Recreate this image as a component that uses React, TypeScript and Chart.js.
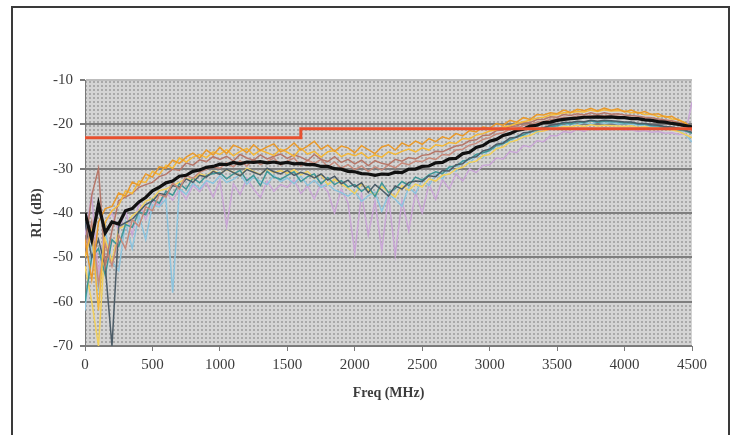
import React, { useEffect, useRef } from "react";
import { Chart, registerables } from "chart.js";

Chart.register(...registerables);

// Sweep frequencies (MHz)
const FREQ_MHZ = [
  0, 50, 100, 150, 200, 250, 300, 350, 400, 450,
  500, 550, 600, 650, 700, 750, 800, 850, 900, 950,
  1000, 1050, 1100, 1150, 1200, 1250, 1300, 1350, 1400, 1450,
  1500, 1550, 1600, 1650, 1700, 1750, 1800, 1850, 1900, 1950,
  2000, 2050, 2100, 2150, 2200, 2250, 2300, 2350, 2400, 2450,
  2500, 2550, 2600, 2650, 2700, 2750, 2800, 2850, 2900, 2950,
  3000, 3050, 3100, 3150, 3200, 3250, 3300, 3350, 3400, 3450,
  3500, 3550, 3600, 3650, 3700, 3750, 3800, 3850, 3900, 3950,
  4000, 4050, 4100, 4150, 4200, 4250, 4300, 4350, 4400, 4450,
  4500,
];

const X_TICKS = [0, 500, 1000, 1500, 2000, 2500, 3000, 3500, 4000, 4500];
const Y_TICKS = [-70, -60, -50, -40, -30, -20, -10];

// Return-loss limit mask (dB)
const LIMIT_FREQ = [0, 1600, 1600, 4500];
const LIMIT_RL = [-23, -23, -21, -21];

// Average of all measured ports (dB)
const AVG_RL = [
  -40, -46, -38, -44.5, -42, -42.5, -39.5, -39, -37.5, -36.5,
  -35, -34.2, -33.2, -32.8, -31.7, -31.5, -30.6, -30.3, -29.7, -29.5,
  -29, -29.1, -28.6, -28.9, -28.5, -28.6, -28.4, -28.7, -28.5, -28.8,
  -28.6, -28.9, -28.8, -29.1, -29.1, -29.5, -29.5, -30, -30.1, -30.6,
  -30.7, -31.1, -31.2, -31.5, -31.2, -31.3, -30.8, -30.9, -30.1, -30.1,
  -29.5, -29.4, -28.7, -28.6, -27.8, -27.7, -26.6, -26.3, -25.2, -24.8,
  -23.8, -23.4, -22.5, -22.1, -21.4, -21.1, -20.4, -20.2, -19.6, -19.5,
  -19.1, -18.9, -18.7, -18.6, -18.4, -18.4, -18.3, -18.4, -18.3, -18.5,
  -18.5, -18.7, -18.7, -19, -19.1, -19.4, -19.5, -19.8, -20, -20.3,
  -20.6,
];

// Individual port measurements (dB)
const PORT_ORANGE = [
  -46, -55, -42, -39, -38.5, -35.5, -36.2, -33, -33.8, -31.2,
  -31.9, -29.6, -29.9, -28.1, -28.8, -27.4, -26.5, -27.6, -25.8, -26.9,
  -25.2, -26.6, -24.7, -25.3, -26.4, -24.6, -25.9, -25.1, -24.4, -26.2,
  -25.5, -24.2, -25.8, -24.9, -23.8, -25.6, -24.7, -26.1, -24.9, -25.3,
  -26.4, -24.8, -25.7, -26.6, -25.1, -24.6, -25.8, -24.2, -24.9, -23.8,
  -24.5, -23.2, -23.9, -22.8, -23.3, -22.1, -22.6, -21.4, -21.7, -20.6,
  -20.9, -19.8, -20.2, -19.1, -19.5, -18.5, -18.9, -17.8, -17.9, -17.4,
  -17.6, -16.8, -17.3, -16.6, -16.9, -16.4, -17, -16.3, -16.8, -16.5,
  -17.2, -16.8, -17.5, -17.1, -17.8, -17.6, -18.4, -18.2, -19.1, -19.6,
  -20.8,
];

const PORT_GOLD = [
  -50, -44, -62, -42, -39.5, -38.2, -35, -35.6, -32.8, -33.1,
  -30.6, -31.4, -29.2, -29.9, -27.6, -28.5, -27.4, -26.8, -27.5, -26.2,
  -26.8, -25.7, -27.1, -26.1, -25.4, -26.9, -25.8, -26.4, -27, -25.6,
  -26.3, -27.2, -25.4, -26.7, -26.1, -27.4, -26.2, -25.9, -27.3, -26.6,
  -27.1, -26.4, -27.6, -26.9, -27.4, -26.2, -26.8, -26.1, -25.6, -26.2,
  -25.3, -25.8, -24.6, -24.9, -24.1, -24.3, -23.2, -23.3, -22.4, -22.1,
  -21.5, -21.2, -20.6, -20.3, -19.8, -19.4, -19.1, -18.6, -18.4, -17.9,
  -17.8, -17.4, -17.4, -17.1, -17.2, -16.8, -17.1, -16.7, -17, -16.9,
  -17, -17.4, -17.3, -17.8, -17.7, -18.3, -18.1, -18.8, -18.9, -19.7,
  -21,
];

const PORT_BROWN = [
  -48, -36, -30, -52, -44, -37.2, -36.4, -35.6, -34.2, -33.6,
  -33.1, -31.8, -31.3, -30.1, -30.4, -28.7, -29.2, -28, -28.4, -27.3,
  -27.9, -27.2, -28.3, -26.8, -27.6, -28.1, -26.9, -27.8, -27.2, -26.7,
  -27.7, -26.9, -27.4, -28.2, -26.8, -27.9, -28.4, -27.3, -28.6, -27.9,
  -28.9, -28.1, -29.3, -28.2, -28.8, -29.1, -27.9, -28.3, -27.5, -27.8,
  -27, -26.8, -26.1, -26.2, -25.5, -24.9, -24.6, -23.7, -23.5, -22.5,
  -22.4, -21.4, -21.3, -20.5, -20.4, -19.6, -19.6, -18.9, -18.9, -18.3,
  -18.4, -17.8, -18, -17.6, -17.9, -17.4, -17.8, -17.4, -17.7, -17.6,
  -17.9, -18, -18.2, -18.4, -18.5, -18.8, -19, -19.2, -19.6, -19.9,
  -21.5,
];

const PORT_ROSE = [
  -50, -42, -56, -47, -52, -45, -48, -41.5, -43, -38.6,
  -39.5, -35.8, -36.4, -33.2, -34.6, -31.5, -32.2, -30.8, -30.1, -29.6,
  -29.9, -28.7, -29.6, -28.2, -29.4, -27.9, -29.1, -28.4, -27.6, -29.2,
  -28.3, -27.6, -29.4, -28.1, -28.8, -27.9, -29.6, -28.5, -29.9, -29.1,
  -30.2, -29.4, -30.6, -29.6, -30.3, -29.2, -29.8, -28.7, -29.1, -28.3,
  -28.4, -27.6, -27.9, -26.8, -26.9, -25.8, -25.6, -24.7, -24.3, -23.4,
  -23, -22.2, -21.9, -21.1, -20.9, -20.2, -20.1, -19.5, -19.4, -18.9,
  -18.8, -18.4, -18.5, -18.1, -18.3, -18, -18.2, -18, -18.2, -18.1,
  -18.4, -18.4, -18.7, -18.7, -19, -19.1, -19.4, -19.5, -19.8, -20.1,
  -21,
];

const PORT_SLATE = [
  -42, -50, -46, -52, -70, -43, -42.2, -41.4, -39.8, -38.1,
  -37.3, -35.6, -35.9, -33.8, -34.2, -32.3, -33.1, -31.5, -31.9, -30.6,
  -31.3, -30.1, -30.9, -31.6, -30.2, -30.8, -31.4, -29.9, -30.7, -31.2,
  -30.4, -31.5, -30.8, -31.3, -32.1, -31.2, -32.6, -31.7, -33.4, -32.6,
  -34.1, -33.2, -35.4, -33.6, -34.8, -36.2, -33.9, -34.6, -33.1, -32.8,
  -32.9, -31.6, -31.8, -30.4, -30.5, -29.1, -28.9, -27.6, -27.3, -26,
  -25.6, -24.5, -24.2, -23.1, -22.9, -21.9, -21.8, -21, -20.8, -20.2,
  -20, -19.6, -19.6, -19.3, -19.4, -19.1, -19.3, -19.1, -19.2, -19.3,
  -19.5, -19.5, -19.8, -19.8, -20.1, -20.2, -20.5, -20.6, -20.9, -21.3,
  -21.8,
];

const PORT_TEAL = [
  -60, -50, -48, -54, -46, -47.5, -42.6, -43.2, -39.7, -40.4,
  -36.9, -37.8, -35.1, -36, -33.4, -34.6, -32.1, -33.2, -31.6, -31.1,
  -30.9, -32.3, -31.2, -30.4, -32.7, -31.5, -33.8, -30.6, -31.9, -32.4,
  -31.5, -30.7, -32.9, -31.8, -31.2, -33.4, -32, -33.6, -32.7, -34.1,
  -33.6, -35.1, -34, -36.3, -33.2, -35.4, -34.5, -32.9, -33.8, -31.9,
  -32.6, -31.4, -30.7, -31.1, -29.6, -29.4, -28.3, -27.9, -26.8, -26.4,
  -25.9, -24.8, -24.4, -23.5, -22.8, -22.4, -21.6, -21.4, -20.7, -20.5,
  -20.3, -19.7, -19.9, -19.4, -19.6, -19.2, -19.5, -19.3, -19.4, -19.5,
  -19.7, -19.6, -20, -20, -20.3, -20.4, -20.7, -20.9, -21.2, -21.5,
  -22,
];

const PORT_YELLOW = [
  -52, -60, -70, -46, -51, -43.6, -42.8, -40.6, -39.5, -37.3,
  -36.8, -35, -34.6, -33.8, -33.1, -32.2, -32.5, -31.2, -31.6, -30.5,
  -31.1, -30.2, -30.8, -31.6, -29.9, -30.7, -31.3, -30.1, -30.9, -30.4,
  -31, -30.2, -31.4, -30.6, -32.2, -31.3, -33.6, -32.4, -33.5, -34.4,
  -35.6, -33.4, -34.8, -36, -34.1, -35.2, -36.4, -33.8, -34.9, -33.5,
  -34.1, -32.3, -32.8, -31.5, -31.2, -30.1, -29.7, -28.6, -28.3, -27.1,
  -26.8, -25.5, -25.1, -24, -23.6, -22.8, -22.5, -21.7, -21.5, -21,
  -20.9, -20.5, -20.6, -20.2, -20.5, -20.1, -20.4, -20.2, -20.3, -20.4,
  -20.5, -20.3, -20.7, -20.5, -20.9, -20.8, -21.1, -21.2, -21.6, -22.3,
  -23,
];

const PORT_LAVENDER = [
  -45, -36, -54, -42, -40, -44, -39.5, -45, -37.5, -41.5,
  -37.2, -38.4, -35.3, -37.1, -34.6, -36.9, -33.8, -35.2, -33.1, -36.4,
  -32.6, -43, -33.4, -35.8, -32.2, -34.6, -36.5, -32.8, -35.1, -33.6,
  -34.2, -32.5, -35.6, -33.9, -36.8, -33.4, -35.2, -40, -34.6, -37.8,
  -49, -35.6, -45, -37.3, -48.5, -36.1, -49.5, -37.2, -44, -35.4,
  -40, -33.5, -36.9, -32.4, -34.6, -31.2, -32.8, -30.1, -30.9, -29.3,
  -29.1, -27.6, -27.8, -26.1, -26.4, -24.8, -25.1, -23.7, -23.9, -22.6,
  -22.6, -21.6, -21.9, -21.1, -21.6, -20.9, -21.3, -20.8, -21.2, -21,
  -21.4, -21.2, -21.6, -21.4, -21.8, -21.6, -22, -21.9, -22.3, -22.2,
  -15,
];

const PORT_SKY = [
  -62, -46, -57, -44, -51, -53, -42, -48, -40.5, -46,
  -38.2, -38.6, -36.9, -58, -34.5, -35.8, -33.2, -34.6, -32.7, -33.3,
  -31.6, -33.1, -32.4, -31.3, -33.5, -31.9, -32.8, -33.6, -31.5, -32.9,
  -32.1, -33.4, -31.7, -33.8, -32.6, -34.2, -33.5, -34.8, -35.4, -36.2,
  -35.1, -37.4, -36.1, -35.3, -39.6, -35.8, -36.9, -38.5, -34.2, -35.6,
  -32.4, -33.8, -31.2, -32.3, -29.9, -30.6, -28.2, -28.9, -27, -27.5,
  -25.3, -25.6, -23.9, -24.2, -22.6, -23, -21.7, -22, -20.9, -21.2,
  -20.2, -20.4, -19.8, -20.1, -19.6, -19.9, -19.5, -19.8, -19.6, -19.9,
  -19.8, -20.1, -20.1, -20.4, -20.3, -20.7, -20.7, -21.1, -21.3, -22.3,
  -24,
];

const SERIF = "'Liberation Serif', 'Times New Roman', serif";
const TEXT_COLOR = "#3c3c3c";

const toPoints = (xs: number[], ys: number[]) => xs.map((x, i) => ({ x, y: ys[i] }));

const portLine = (label: string, values: number[], color: string, order: number) => ({
  label,
  data: toPoints(FREQ_MHZ, values),
  borderColor: color,
  borderWidth: 1.5,
  pointRadius: 0,
  order,
});

// Dotted grey fill behind the plot area
const plotBackground = {
  id: "plotBackground",
  beforeDraw(chart: any) {
    const { ctx, chartArea: a } = chart;
    if (!a) return;
    const tile = document.createElement("canvas");
    tile.width = 4;
    tile.height = 4;
    const t = tile.getContext("2d")!;
    t.fillStyle = "#d4d4d4";
    t.fillRect(0, 0, 4, 4);
    t.fillStyle = "#a9a9a9";
    t.fillRect(1, 1, 2, 2);
    const pattern = ctx.createPattern(tile, "repeat");
    ctx.save();
    ctx.fillStyle = pattern;
    ctx.fillRect(a.left, a.top, a.right - a.left, a.bottom - a.top);
    ctx.restore();
  },
};

export default function App() {
  const canvasRef = useRef<HTMLCanvasElement | null>(null);

  useEffect(() => {
    const canvas = canvasRef.current;
    if (!canvas) return;

    const datasets: any[] = [
      {
        label: "Limit",
        data: toPoints(LIMIT_FREQ, LIMIT_RL),
        borderColor: "#e8502f",
        borderWidth: 3,
        pointRadius: 0,
        order: 0,
      },
      {
        label: "Average",
        data: toPoints(FREQ_MHZ, AVG_RL),
        borderColor: "#111111",
        borderWidth: 3.2,
        pointRadius: 0,
        order: 1,
      },
      portLine("Port 1", PORT_ORANGE, "#e99a2c", 3),
      portLine("Port 2", PORT_GOLD, "#f4b93a", 4),
      portLine("Port 3", PORT_BROWN, "#b7786a", 5),
      portLine("Port 4", PORT_ROSE, "#c68a7c", 6),
      portLine("Port 5", PORT_SLATE, "#4d5d68", 7),
      portLine("Port 6", PORT_TEAL, "#3f9797", 8),
      portLine("Port 7", PORT_YELLOW, "#f1d05c", 9),
      portLine("Port 8", PORT_SKY, "#8cc4de", 10),
      portLine("Port 9", PORT_LAVENDER, "#c9a6d6", 11),
    ];

    const chart = new Chart(canvas, {
      type: "line",
      data: { datasets },
      plugins: [plotBackground],
      options: {
        responsive: false,
        animation: false,
        events: [],
        layout: { padding: { left: 25, right: 47, top: 80, bottom: 29 } },
        plugins: {
          legend: { display: false },
          tooltip: { enabled: false },
        },
        elements: { line: { tension: 0 }, point: { radius: 0 } },
        scales: {
          x: {
            type: "linear",
            min: 0,
            max: 4500,
            afterBuildTicks: (s: any) => {
              s.ticks = X_TICKS.map((v) => ({ value: v }));
            },
            afterFit: (s: any) => {
              s.height = 60;
            },
            ticks: {
              autoSkip: false,
              maxRotation: 0,
              padding: 5,
              color: TEXT_COLOR,
              font: { family: SERIF, size: 15 },
              callback: (v: any) => String(v),
            },
            grid: {
              drawOnChartArea: false,
              tickLength: 5,
              color: "#7a7a7a",
            },
            border: { color: "#7a7a7a", width: 1 },
            title: {
              display: true,
              text: "Freq (MHz)",
              color: TEXT_COLOR,
              font: { family: SERIF, size: 14, weight: "bold" },
              padding: { top: 4, bottom: 4 },
            },
          },
          y: {
            type: "linear",
            min: -70,
            max: -10,
            afterBuildTicks: (s: any) => {
              s.ticks = Y_TICKS.map((v) => ({ value: v }));
            },
            afterFit: (s: any) => {
              s.width = 60;
            },
            ticks: {
              padding: 7,
              color: TEXT_COLOR,
              font: { family: SERIF, size: 15 },
              callback: (v: any) => String(v),
            },
            grid: {
              tickLength: 5,
              lineWidth: 2,
              color: (c: any) => (c.tick && c.tick.value === -10 ? "#bdbdbd" : "#7e7e7e"),
              tickColor: "#7a7a7a",
            },
            border: { color: "#7a7a7a", width: 1 },
            title: {
              display: true,
              text: "RL (dB)",
              color: TEXT_COLOR,
              font: { family: SERIF, size: 14, weight: "bold" },
              padding: { top: 4, bottom: 4 },
            },
          },
        },
      } as any,
    });

    return () => chart.destroy();
  }, []);

  return (
    <div
      style={{
        position: "fixed",
        left: 0,
        top: 0,
        width: 739,
        height: 435,
        overflow: "hidden",
        background: "#ffffff",
      }}
    >
      <div
        style={{
          position: "absolute",
          left: 11,
          top: 6,
          width: 719,
          height: 520,
          border: "2px solid #3a3a3a",
          boxSizing: "border-box",
        }}
      />
      <canvas
        ref={canvasRef}
        width={739}
        height={435}
        style={{ position: "absolute", left: 0, top: 0, width: 739, height: 435 }}
      />
    </div>
  );
}
